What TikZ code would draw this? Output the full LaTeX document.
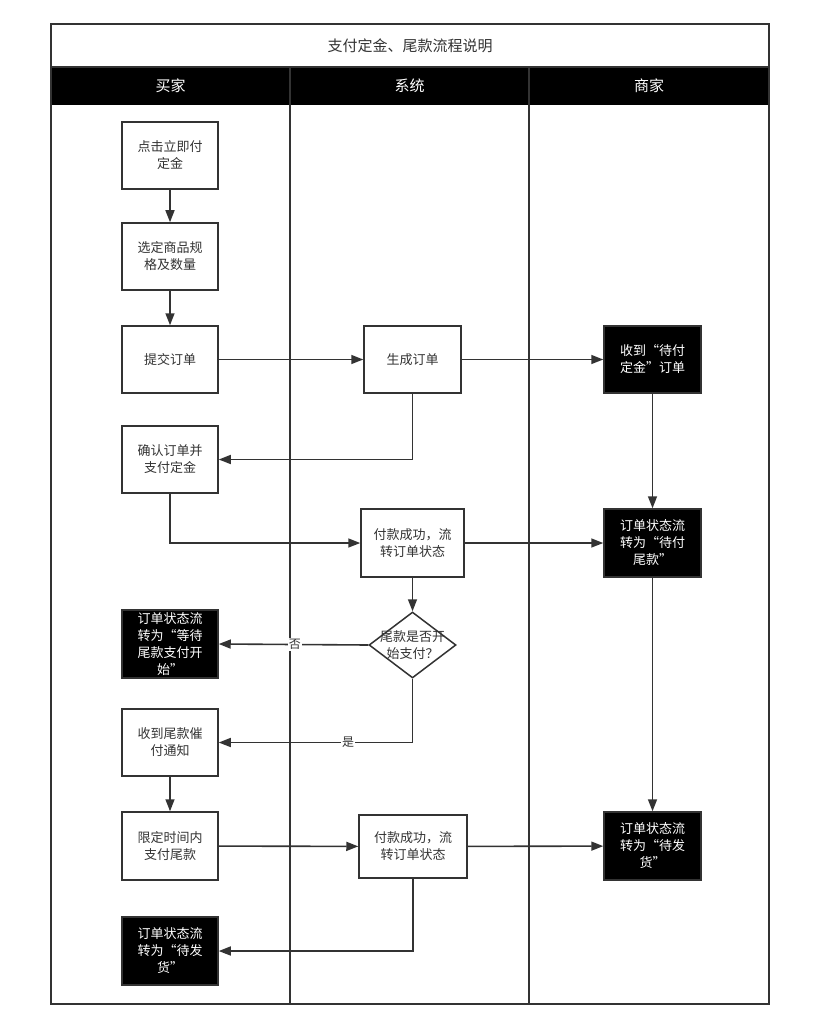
\documentclass[tikz,border=0pt]{standalone}
\usepackage{fontspec}
\setmainfont{Noto Sans CJK SC}
\usetikzlibrary{arrows.meta,shapes.geometric}
\definecolor{ln}{HTML}{333333}
\tikzset{
  box/.style={draw=ln, line width=1.5pt, fill=white, minimum width=96pt, minimum height=67pt,
    inner sep=2pt, align=center, text=ln, font=\fontsize{13}{17}\selectfont, text width=80pt},
  bbox/.style={box, fill=black, text=white},
  txt/.style={align=center, text=ln, font=\fontsize{13}{17}\selectfont},
  conn/.style={draw=ln, line width=1.6pt, -{Triangle[length=12pt,width=9pt]}},
  lbl/.style={fill=white, inner sep=1pt, text=ln, font=\fontsize{12}{14}\selectfont},
  hdr/.style={text=white, font=\fontsize{15}{18}\selectfont}
}
\begin{document}
\begin{tikzpicture}[x=1pt,y=-1pt]
\useasboundingbox (0,0) rectangle (828,1024);
\fill[white] (0,0) rectangle (828,1024);
% frame
\fill[black] (51,67) rectangle (769,105);
\draw[ln, line width=1.6pt] (290,67) -- (290,1004);
\draw[ln, line width=1.6pt] (529,67) -- (529,1004);
\draw[ln, line width=1.8pt] (51,67) -- (769,67);
\draw[ln, line width=1.8pt] (51,24) rectangle (769,1004);
\node[txt, font=\fontsize{15}{18}\selectfont] (title) at (410,46) {支付定金、尾款流程说明};
\node[hdr] (h1) at (170.5,86) {买家};
\node[hdr] (h2) at (409.5,86) {系统};
\node[hdr] (h3) at (649,86) {商家};
% buyer lane
\node[box] (B1) at (170,155.5) {点击立即付\\定金};
\node[box] (B2) at (170,256.5) {选定商品规\\格及数量};
\node[box] (B3) at (170,359.5) {提交订单};
\node[box] (B4) at (170,459.5) {确认订单并\\支付定金};
\node[bbox, minimum height=68pt] (B5) at (170,644) {订单状态流\\转为“等待\\尾款支付开\\始”};
\node[box] (B6) at (170,742.5) {收到尾款催\\付通知};
\node[box, minimum height=68pt] (B7) at (170,846) {限定时间内\\支付尾款};
\node[bbox, minimum height=68pt] (B8) at (170,951) {订单状态流\\转为“待发\\货”};
% system lane
\node[box, minimum width=97pt] (S1) at (412.5,359.5) {生成订单};
\node[box, minimum width=103pt, minimum height=68pt, text width=90pt] (S2) at (412.5,543) {付款成功，流\\转订单状态};
\node[draw=ln, line width=1.5pt, fill=white, diamond, minimum width=87pt, minimum height=66pt, inner sep=0pt] (D) at (412.5,645) {};
\node[txt] (Dt) at (412.5,645) {尾款是否开\\始支付？};
\node[box, minimum width=108pt, minimum height=63pt, text width=95pt] (S3) at (413,846.5) {付款成功，流\\转订单状态};
% merchant lane
\node[bbox, minimum width=97pt] (M1) at (652.5,359.5) {收到“待付\\定金”订单};
\node[bbox, minimum width=97pt, minimum height=68pt] (M2) at (652.5,543) {订单状态流\\转为“待付\\尾款”};
\node[bbox, minimum width=97pt, minimum height=68pt] (M3) at (652.5,846) {订单状态流\\转为“待发\\货”};
% connectors
\draw[conn] (B1) -- (B2);
\draw[conn] (B2) -- (B3);
\draw[conn] (B3) -- (S1);
\draw[conn] (S1) -- (M1);
\draw[conn] (S1.south) |- (B4.east);
\draw[conn] (B4.south) |- (S2.west);
\draw[conn] (S2) -- (M2);
\draw[conn] (M1) -- (M2);
\draw[conn] (S2) -- (D);
\draw[conn] (D.west) -- node[lbl, pos=0.49] {否} (B5.east);
\draw[conn] (D.south) |- node[lbl, pos=0.666] {是} (B6.east);
\draw[conn] (B6) -- (B7);
\draw[conn] (B7) -- (S3);
\draw[conn] (S3) -- (M3);
\draw[conn] (M2) -- (M3);
\draw[conn] (S3.south) |- (B8.east);
\end{tikzpicture}
\end{document}
